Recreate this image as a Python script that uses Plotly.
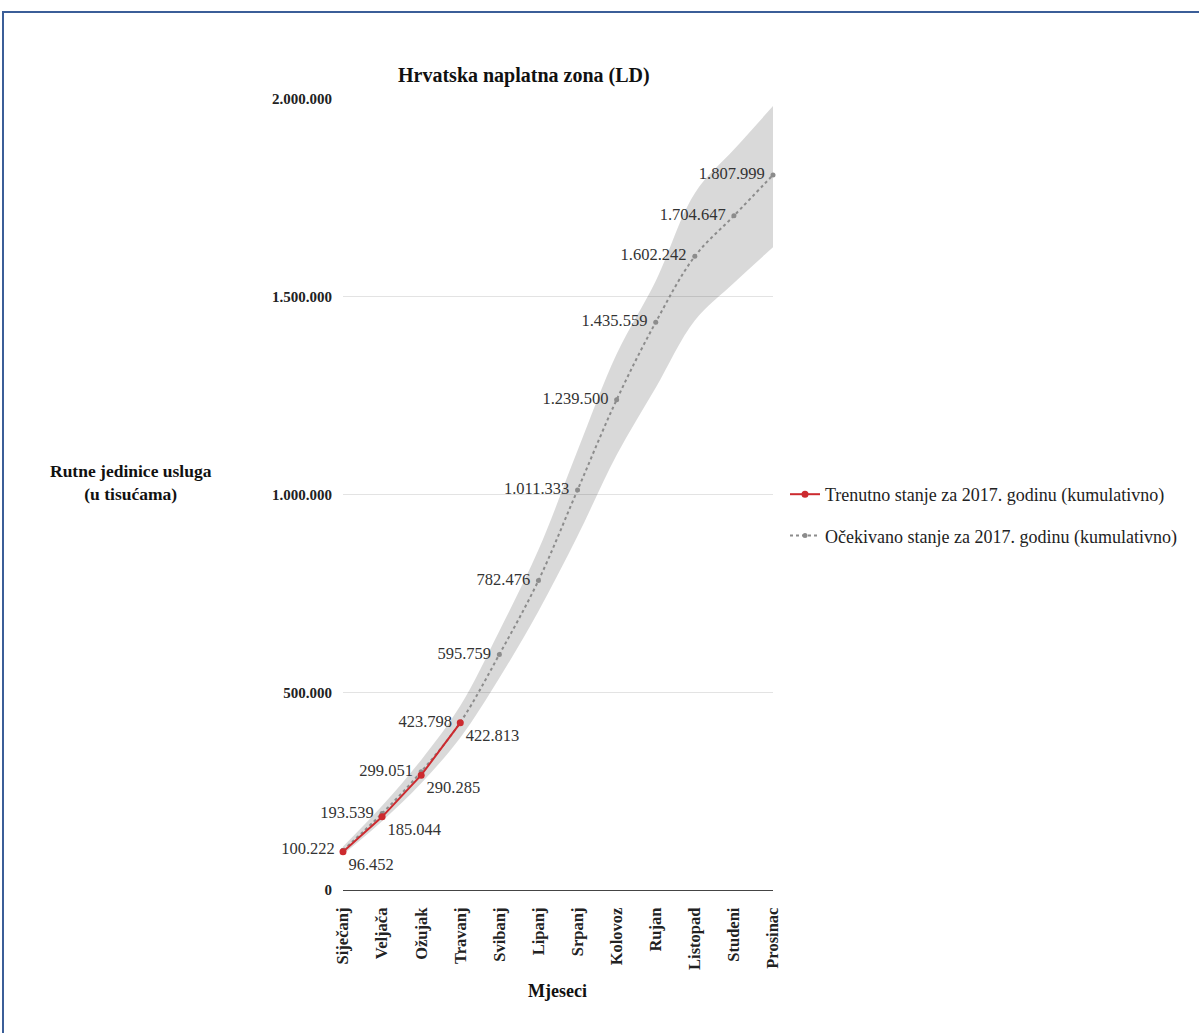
import plotly.graph_objects as go

months = ["Siječanj", "Veljača", "Ožujak", "Travanj", "Svibanj", "Lipanj",
          "Srpanj", "Kolovoz", "Rujan", "Listopad", "Studeni", "Prosinac"]

actual = [96452, 185044, 290285, 422813]
expected = [100222, 193539, 299051, 423798, 595759, 782476,
            1011333, 1239500, 1435559, 1602242, 1704647, 1807999]

# interval band around the expected line
band_low = [90000, 174000, 270000, 385000, 536000, 705000,
            895000, 1100000, 1270000, 1440000, 1535000, 1625000]
band_high = [110000, 213000, 329000, 466000, 655000, 860000,
             1111000, 1355000, 1540000, 1762000, 1872000, 1982000]

y_ticks = [0, 500000, 1000000, 1500000, 2000000]


def fmt(v):
    return "{:,}".format(v).replace(",", ".")


FONT = "Liberation Serif, Times New Roman, serif"
xs = list(range(len(months)))

fig = go.Figure()

fig.add_trace(go.Scatter(x=xs, y=band_high, mode="lines", line=dict(width=0, shape="spline"),
                         showlegend=False, hoverinfo="skip"))
fig.add_trace(go.Scatter(x=xs, y=band_low, mode="lines", line=dict(width=0, shape="spline"),
                         fill="tonexty", fillcolor="rgba(0,0,0,0.15)",
                         showlegend=False, hoverinfo="skip"))

fig.add_trace(go.Scatter(
    x=xs, y=expected, mode="lines+markers+text",
    name="Očekivano stanje za 2017. godinu (kumulativno)",
    line=dict(color="#8c8c8c", width=2, dash="dot", shape="spline"),
    marker=dict(color="#8c8c8c", size=5),
    text=[fmt(v) + "\u00a0" for v in expected], textposition="middle left",
    textfont=dict(family=FONT, size=16.5, color="#333333"),
    cliponaxis=False, legendgroup="b", legendrank=2))

fig.add_trace(go.Scatter(
    x=xs[:len(actual)], y=actual, mode="lines+markers+text",
    name="Trenutno stanje za 2017. godinu (kumulativno)",
    line=dict(color="#cc2a2f", width=2),
    marker=dict(color="#cc2a2f", size=7),
    text=[fmt(v) for v in actual], textposition="bottom right",
    textfont=dict(family=FONT, size=16.5, color="#333333"),
    cliponaxis=False, legendgroup="a", legendrank=1))

L, R, T, B = 343, 1199 - 773, 99, 1033 - 890
W, H = 1199, 1033
pw, ph = W - L - R, H - T - B


def px_x(p):
    return (p - L) / pw


def px_y(p):
    return (H - B - p) / ph


fig.update_layout(
    width=W, height=H,
    margin=dict(l=L, r=R, t=T, b=B, pad=0, autoexpand=False),
    paper_bgcolor="white", plot_bgcolor="white",
    separators=",.",
    font=dict(family=FONT, size=16, color="#222222"),
    xaxis=dict(range=[0, 11], tickvals=xs, ticktext=months, tickangle=-90,
               showgrid=False, zeroline=False, showline=True, linecolor="#444444",
               linewidth=1, ticks="", ticklabelstandoff=10,
               tickfont=dict(family=FONT, size=16.5, color="#222222", weight="bold")),
    yaxis=dict(range=[0, 2000000], tickvals=y_ticks, tickformat=",d",
               showgrid=True, gridcolor="#e3e3e3", zeroline=False, ticks="",
               ticklabelstandoff=10,
               tickfont=dict(family=FONT, size=15, color="#222222", weight="bold")),
    legend=dict(x=px_x(785), y=px_y(476), xanchor="left", yanchor="top",
                traceorder="grouped", tracegroupgap=15,
                font=dict(family=FONT, size=18, color="#222222")),
    showlegend=True,
    annotations=[
        dict(text="<b>Hrvatska naplatna zona (LD)</b>", x=px_x(524), y=px_y(62),
             xref="paper", yref="paper", showarrow=False, xanchor="center",
             font=dict(family=FONT, size=20, color="#111111")),
        dict(text="<b>Rutne jedinice usluga<br>(u tisućama)</b>", x=px_x(131), y=px_y(482),
             xref="paper", yref="paper", showarrow=False, xanchor="center",
             font=dict(family=FONT, size=17.5, color="#111111")),
        dict(text="<b>Mjeseci</b>", x=px_x(557), y=px_y(1003),
             xref="paper", yref="paper", showarrow=False, xanchor="center",
             font=dict(family=FONT, size=18, color="#111111")),
    ],
    shapes=[dict(type="rect", xref="paper", yref="paper",
                 x0=px_x(3), x1=px_x(1210), y0=px_y(1045), y1=px_y(12),
                 line=dict(color="#3b5e98", width=2), layer="below")],
)

fig.write_html("out.html", config={"displayModeBar": False},
               post_script="document.body.style.margin='0';")
